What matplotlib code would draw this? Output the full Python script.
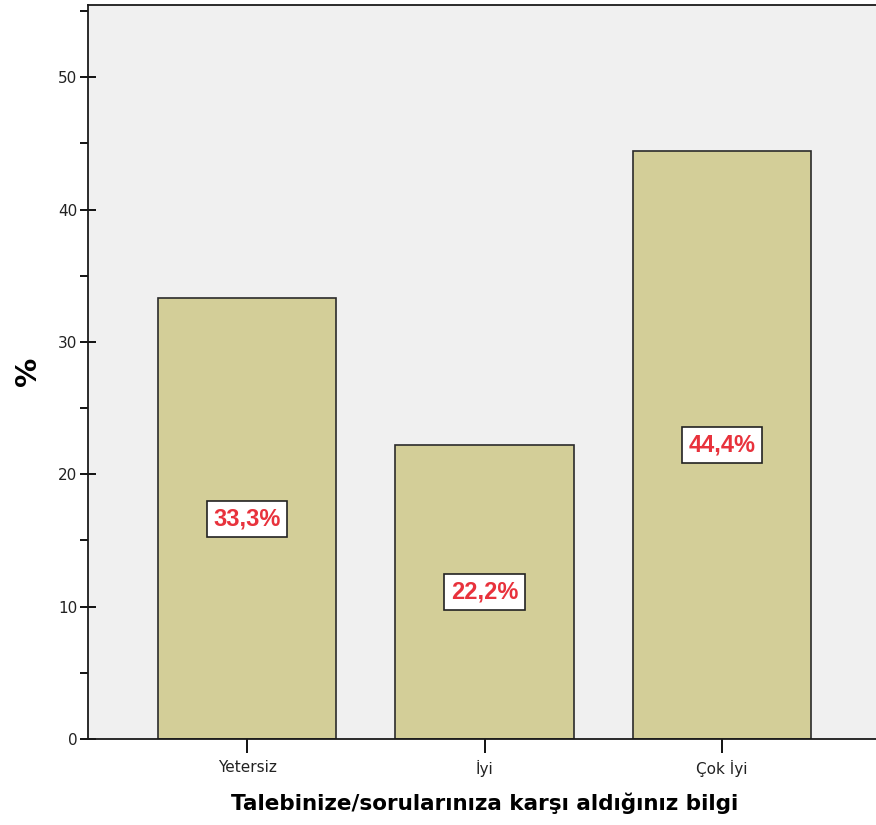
import matplotlib.pyplot as plt
from matplotlib.ticker import MultipleLocator

# data
categories = ['Yetersiz', 'İyi', 'Çok İyi']
percent = [33.3, 22.2, 44.4]
labels = ['33,3%', '22,2%', '44,4%']

fig = plt.figure(figsize=(8.76, 8.25), dpi=100)
ax = fig.add_axes([88 / 876, 1 - 739 / 825, (881 - 88) / 876, (739 - 4.5) / 825])
ax.set_facecolor('#f0f0f0')

x = range(len(categories))
ax.bar(x, percent, width=0.75, color='#d3ce98', edgecolor='#2b2b2b', linewidth=1.2, zorder=2)

for xi, v, lab in zip(x, percent, labels):
    ax.text(xi, v / 2, lab, ha='center', va='center', color='#e8323c',
            fontsize=17, fontweight='bold', family='Liberation Sans', zorder=3,
            bbox=dict(boxstyle='square,pad=0.28', facecolor='white', edgecolor='#222222', linewidth=1.2))

ax.set_xlim(-0.67, 2.67)
ax.set_ylim(0, 55.5)
ax.yaxis.set_major_locator(MultipleLocator(10))
ax.yaxis.set_minor_locator(MultipleLocator(5))
ax.set_xticks(list(x))
ax.set_xticklabels(categories, fontsize=11, color='#222222', family='DejaVu Sans')
ax.tick_params(axis='y', which='major', direction='inout', length=11, width=1.3, labelsize=11,
               labelcolor='#222222', pad=2)
ax.tick_params(axis='y', which='minor', direction='out', length=6, width=1.3)
ax.tick_params(axis='x', direction='out', length=10, width=1.3, pad=5)

for side in ['left', 'top', 'bottom']:
    ax.spines[side].set_linewidth(1.3)
    ax.spines[side].set_color('#1a1a1a')
ax.spines['right'].set_visible(False)

ax.set_xlabel('Talebinize/sorularınıza karşı aldığınız bilgi', fontsize=15.5, fontweight='bold',
              family='DejaVu Sans', labelpad=11)
ax.set_ylabel('%', fontsize=21, fontweight='bold', labelpad=12)

fig.savefig('out.png', dpi=100)
